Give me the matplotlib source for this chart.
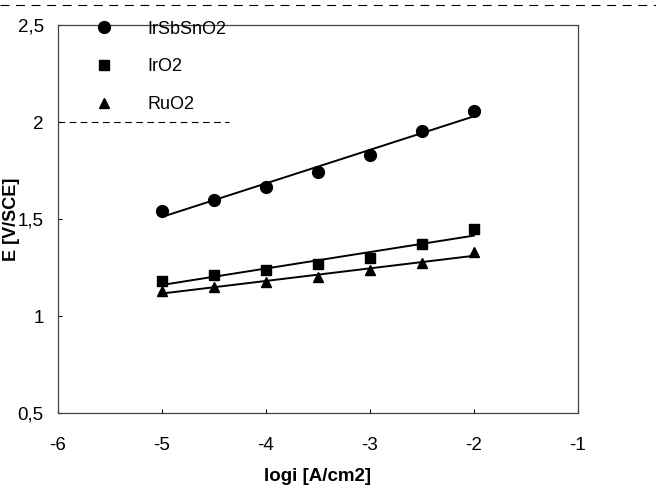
import matplotlib
matplotlib.use("Agg")
import matplotlib.pyplot as plt
import numpy as np
from matplotlib.ticker import FuncFormatter
from matplotlib.lines import Line2D

plt.rcParams['font.family'] = ['Liberation Sans', 'DejaVu Sans']
plt.rcParams['axes.unicode_minus'] = False

# data
log_i = [-5, -4.5, -4, -3.5, -3, -2.5, -2]
e_irsbsno2 = [1.54, 1.60, 1.665, 1.745, 1.83, 1.955, 2.055]
e_iro2 = [1.18, 1.21, 1.237, 1.268, 1.30, 1.37, 1.448]
e_ruo2 = [1.13, 1.15, 1.175, 1.20, 1.237, 1.273, 1.33]

series = [
    ("IrSbSnO2", e_irsbsno2, "o", 8.5),
    ("IrO2", e_iro2, "s", 7.5),
    ("RuO2", e_ruo2, "^", 7.5),
]

fig = plt.figure(figsize=(6.56, 4.99), dpi=100)
ax = fig.add_axes([0.088, 0.172, 0.793, 0.778])

x = np.array(log_i)
for name, y, m, ms in series:
    ax.plot(x, y, ls="none", marker=m, ms=ms, color="black", label=name)
    k, b = np.polyfit(x, y, 1)
    ax.plot([x[0], x[-1]], [k * x[0] + b, k * x[-1] + b], color="black", lw=1.4)

ax.set_xlim(-6, -1)
ax.set_ylim(0.5, 2.5)
ax.set_xticks([-6, -5, -4, -3, -2, -1])
ax.set_yticks([0.5, 1, 1.5, 2, 2.5])
ax.yaxis.set_major_formatter(FuncFormatter(lambda v, p: ("%g" % v).replace(".", ",")))
ax.tick_params(direction="in", length=3, width=0.8, labelsize=13.5)
ax.tick_params(axis="x", pad=17)
ax.tick_params(axis="y", pad=10)
for s in ax.spines.values():
    s.set_linewidth(0.9)
    s.set_color("#444444")

ax.set_xlabel("logi [A/cm2]", fontsize=13.5, fontweight="bold", labelpad=10)
ax.set_ylabel("E [V/SCE]", fontsize=13, fontweight="bold")
ax.yaxis.set_label_coords(-0.073, 0.5)

handles = [Line2D([], [], ls="none", marker=m, ms=ms, color="black") for _, _, m, ms in series]
leg = ax.legend(handles, [s[0] for s in series], loc="upper left",
                bbox_to_anchor=(0.055, 1.03), frameon=False, fontsize=13,
                labelspacing=1.15, handletextpad=1.8, borderaxespad=0,
                handlelength=1.2)

# dashed scan artefacts
ax.plot([0, 0.33], [0.75, 0.75], transform=ax.transAxes, color="black",
        lw=0.8, ls=(0, (6, 4)), clip_on=False)
fig.add_artist(Line2D([0.0, 1.0], [0.99, 0.99], transform=fig.transFigure,
                      color="black", lw=0.8, ls=(0, (8, 6))))

fig.savefig("out.png", dpi=100)
